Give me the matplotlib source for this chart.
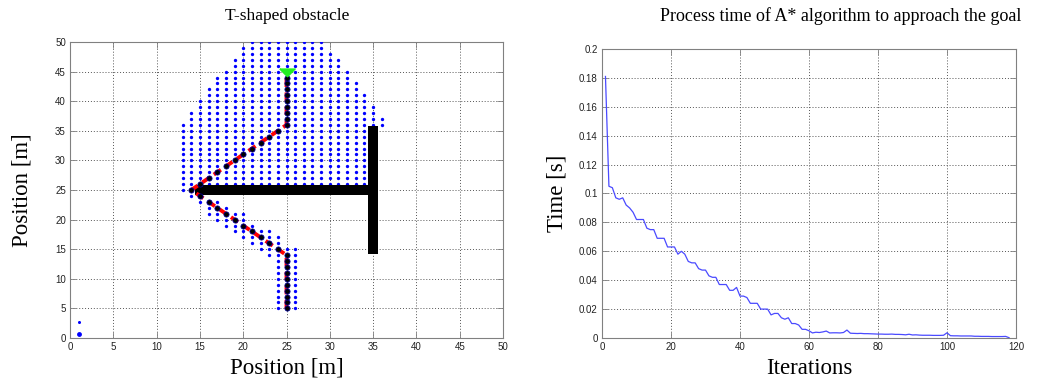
import matplotlib
matplotlib.use("Agg")
import matplotlib.pyplot as plt

# explored nodes of the A* search: one row per y, filled from xmin to xmax
node_rows_y = [50, 49, 48, 47, 46, 45, 44, 43, 42, 41, 40, 39, 38, 37, 36, 35,
               34, 33, 32, 31, 30, 29, 28, 27, 26, 25, 24, 23, 22, 21, 20, 19,
               18, 17, 16, 15, 14, 13, 12, 11, 10, 9, 8, 7, 6, 5]
node_rows_xmin = [21, 20, 20, 19, 19, 18, 17, 17, 16, 16, 15, 15, 14, 14, 13, 13,
                  13, 13, 13, 13, 13, 13, 13, 13, 13, 13, 14, 15, 16, 16, 17, 18,
                  19, 20, 21, 22, 23, 24, 24, 24, 24, 24, 24, 24, 24, 24]
node_rows_xmax = [29, 29, 30, 31, 31, 32, 32, 33, 33, 34, 34, 35, 35, 36, 36, 34,
                  34, 34, 34, 34, 34, 34, 34, 34, 34, 14, 15, 17, 18, 20, 20, 21,
                  23, 24, 24, 26, 26, 26, 26, 26, 26, 26, 26, 26, 26, 26]

# T-shaped obstacle cells
obst_x = list(range(15, 36)) + [35] * 21
obst_y = [25] * 21 + list(range(15, 36))

# path found by A*
path_x = [25, 25, 25, 25, 25, 25, 25, 25, 25, 25,
          24, 23, 22, 21, 20, 19, 18, 17, 16, 15, 14,
          15, 16, 17, 18, 19, 20, 21, 22, 23, 24, 25,
          25, 25, 25, 25, 25, 25, 25, 25]
path_y = [5, 6, 7, 8, 9, 10, 11, 12, 13, 14,
          15, 16, 17, 18, 19, 20, 21, 22, 23, 24, 25,
          26, 27, 28, 29, 30, 31, 32, 33, 34, 35, 36,
          37, 38, 39, 40, 41, 42, 43, 44]
goal = (25, 45)
start_x = [1, 1]
start_y = [0.75, 2.75]

# process time per iteration
iters = list(range(1, 119))
proc_time = [0.181, 0.105, 0.104, 0.097, 0.096, 0.097, 0.092, 0.090, 0.087, 0.082,
             0.082, 0.082, 0.076, 0.075, 0.075, 0.069, 0.069, 0.069, 0.063, 0.063,
             0.063, 0.058, 0.060, 0.058, 0.053, 0.052, 0.052, 0.048, 0.047, 0.047,
             0.043, 0.042, 0.042, 0.037, 0.037, 0.037, 0.033, 0.033, 0.035, 0.029,
             0.029, 0.028, 0.024, 0.024, 0.024, 0.020, 0.020, 0.020, 0.016, 0.017,
             0.017, 0.014, 0.013, 0.014, 0.010, 0.010, 0.009, 0.006, 0.006, 0.005,
             0.0035, 0.004, 0.0038, 0.0042, 0.0048, 0.0035, 0.0036, 0.0036, 0.0035, 0.0038,
             0.0055, 0.0033, 0.0032, 0.0031, 0.0032, 0.0030, 0.0030, 0.0029, 0.0028, 0.0027,
             0.0027, 0.0026, 0.0026, 0.0027, 0.0025, 0.0025, 0.0024, 0.0022, 0.0026, 0.0021,
             0.0022, 0.0020, 0.0019, 0.0019, 0.0019, 0.0018, 0.0018, 0.0018, 0.0019, 0.0036,
             0.0016, 0.0015, 0.0015, 0.0014, 0.0014, 0.0014, 0.0014, 0.0012, 0.0012, 0.0011,
             0.0011, 0.0011, 0.0010, 0.0010, 0.0010, 0.0010, 0.0011, 0.0002]

serif = ["Liberation Serif", "DejaVu Serif"]
plt.rcParams["font.family"] = ["Liberation Sans", "DejaVu Sans"]


def matlab_axes(ax):
    for s in ax.spines.values():
        s.set_color("#808080")
        s.set_linewidth(0.8)
    ax.tick_params(direction="in", top=True, right=True, length=4, width=0.6,
                   color="#808080", labelsize=7, labelcolor="#222222", pad=3)
    ax.grid(True, linestyle=(0, (1, 2)), color="#555555", linewidth=0.7)
    ax.set_axisbelow(True)


fig = plt.figure(figsize=(10.43, 3.84), dpi=100)
ax1 = fig.add_axes([0.0671, 0.1198, 0.4152, 0.7708])
ax2 = fig.add_axes([0.5772, 0.1198, 0.3969, 0.7526])

# left: explored nodes, obstacle and path
obst = set(zip(obst_x, obst_y))
nx, ny = [], []
for y, x0, x1 in zip(node_rows_y, node_rows_xmin, node_rows_xmax):
    for x in range(x0, x1 + 1):
        if (x, y) not in obst:
            nx.append(x)
            ny.append(y)
ax1.plot(nx, ny, "o", color="#0000ff", ms=2.4, mew=0, zorder=3)
ax1.plot(obst_x, obst_y, "s", color="black", ms=6.9, mew=0, zorder=4)
ax1.plot(path_x, path_y, "--", color="red", lw=2.8, dashes=(2.2, 1.4), zorder=5)
ax1.plot(path_x, path_y, "o", color="black", ms=3.8, mew=0.5, mec="#0000aa", zorder=6)
wide_tri = [(-1.0, 0.45), (1.0, 0.45), (0.0, -0.55), (-1.0, 0.45)]
ax1.plot([goal[0]], [goal[1]], marker=wide_tri, color="#22ee22", ms=11, ls="none",
         zorder=7)
ax1.plot(start_x[:1], start_y[:1], "o", color="#0000ff", ms=3.5, mew=0, zorder=3)
ax1.plot(start_x[1:], start_y[1:], "o", color="#0000ff", ms=2.2, mew=0, zorder=3)

ax1.set_xlim(0, 50)
ax1.set_ylim(0, 50)
ax1.set_xticks(range(0, 51, 5))
ax1.set_yticks(range(0, 51, 5))
matlab_axes(ax1)
ax1.set_xlabel("Position [m]", family=serif, fontsize=16.5)
ax1.set_ylabel("Position [m]", family=serif, fontsize=16.5)
ax1.xaxis.set_label_coords(0.5, -0.1)
ax1.yaxis.set_label_coords(-0.111, 0.5)
ax1.xaxis.label.set_va("center")
ax1.yaxis.label.set_va("center")

# right: process time
ax2.plot(iters, proc_time, color="#4a4aff", lw=0.9)
ax2.set_xlim(0, 120)
ax2.set_ylim(0, 0.2)
ax2.set_xticks(range(0, 121, 20))
ax2.set_yticks([0, 0.02, 0.04, 0.06, 0.08, 0.1, 0.12, 0.14, 0.16, 0.18, 0.2])
ax2.set_yticklabels(["0", "0.02", "0.04", "0.06", "0.08", "0.1", "0.12", "0.14",
                     "0.16", "0.18", "0.2"])
matlab_axes(ax2)
ax2.set_xlabel("Iterations", family=serif, fontsize=16.5)
ax2.set_ylabel("Time [s]", family=serif, fontsize=16.5)
ax2.xaxis.set_label_coords(0.5, -0.104)
ax2.yaxis.set_label_coords(-0.109, 0.5)
ax2.xaxis.label.set_va("center")
ax2.yaxis.label.set_va("center")

fig.text(287 / 1043, 1 - 16 / 384, "T-shaped obstacle", family=serif, fontsize=12.5,
         ha="center", va="center")
fig.text(841 / 1043, 1 - 16 / 384, "Process time of A* algorithm to approach the goal",
         family=serif, fontsize=13, ha="center", va="center")

fig.savefig("out.png", dpi=100)
